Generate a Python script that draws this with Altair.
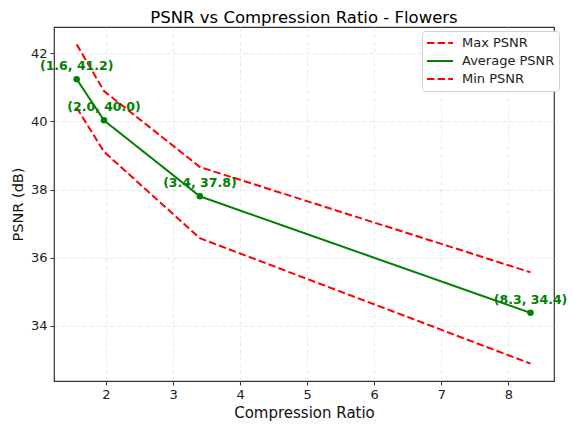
import altair as alt
import pandas as pd

ratio = [1.563, 1.97, 3.40, 8.33]
avg_psnr = [41.24, 40.03, 37.80, 34.38]
max_psnr = [42.26, 40.89, 38.66, 35.57]
min_psnr = [40.40, 39.11, 36.57, 32.89]
series_names = ["Max PSNR", "Average PSNR", "Min PSNR"]
series_colors = ["#ff0000", "#008000", "#ff0000"]

rows = []
for name, vals in zip(series_names, [max_psnr, avg_psnr, min_psnr]):
    for i, (x, y) in enumerate(zip(ratio, vals)):
        rows.append({"series": name, "ratio": x, "psnr": y, "order": i})
df = pd.DataFrame(rows)
avg_df = pd.DataFrame({"ratio": ratio, "psnr": avg_psnr})
avg_df["label"] = [f"({x:.1f}, {y:.1f})" for x, y in zip(ratio, avg_psnr)]

FONT = "DejaVu Sans"
xs = alt.Scale(domain=[1.225, 8.68], nice=False, zero=False)
ys = alt.Scale(domain=[32.38, 42.77], nice=False, zero=False)

xax = alt.Axis(values=[2, 3, 4, 5, 6, 7, 8], title="Compression Ratio", format="d")
yax = alt.Axis(values=[34, 36, 38, 40, 42], title="PSNR (dB)", format="d")


def make_legend():
    return alt.Legend(title=None, orient="none", legendX=368, legendY=4,
                      symbolType="stroke", symbolSize=676, symbolStrokeWidth=2,
                      labelFontSize=13, labelFont=FONT, labelColor="#222",
                      padding=4, rowPadding=2, clipHeight=16, strokeColor="#d0d0d0",
                      fillColor="white", cornerRadius=3, labelOffset=8,
                      labelLimit=200)


lines = alt.Chart(df).mark_line(strokeWidth=2).encode(
    x=alt.X("ratio:Q", scale=xs, axis=xax),
    y=alt.Y("psnr:Q", scale=ys, axis=yax),
    order="order:O",
    color=alt.Color("series:N", scale=alt.Scale(domain=series_names, range=series_colors),
                    legend=make_legend()),
    strokeDash=alt.StrokeDash("series:N",
                              scale=alt.Scale(domain=series_names, range=[[7.4, 3.2], [1, 0], [7.4, 3.2]]),
                              legend=make_legend()),
)

points = alt.Chart(avg_df).mark_circle(size=42, color="#008000", opacity=1).encode(
    x=alt.X("ratio:Q", scale=xs),
    y=alt.Y("psnr:Q", scale=ys),
)

labels = alt.Chart(avg_df).mark_text(dy=-13, fontSize=12.5, fontWeight="bold", color="#008000",
                                     font=FONT, align="center").encode(
    x=alt.X("ratio:Q", scale=xs),
    y=alt.Y("psnr:Q", scale=ys),
    text="label:N",
)

chart = alt.layer(lines, points, labels).properties(
    width=500, height=354,
    title=alt.TitleParams("PSNR vs Compression Ratio - Flowers", fontSize=16.5, font=FONT,
                          fontWeight="normal", color="#000", anchor="middle", offset=1),
    autosize=alt.AutoSizeParams(type="none"),
    padding={"left": 46, "top": 19, "right": 13, "bottom": 40},
).configure_view(stroke="#333", strokeWidth=1.2).configure_axis(
    grid=True, gridColor="#dddddd", gridDash=[4, 3], gridOpacity=0.8, gridWidth=0.8,
    domain=False, tickColor="#333", tickSize=4, tickWidth=1,
    labelFont=FONT, labelFontSize=13, labelColor="#222", labelPadding=3,
    titleFont=FONT, titleFontSize=15, titleFontWeight="normal", titleColor="#111",
).configure_axisX(titlePadding=4).configure_axisY(titlePadding=5, titleFontSize=14.5)

chart.save("out.html", embed_options={"renderer": "svg", "actions": False})
